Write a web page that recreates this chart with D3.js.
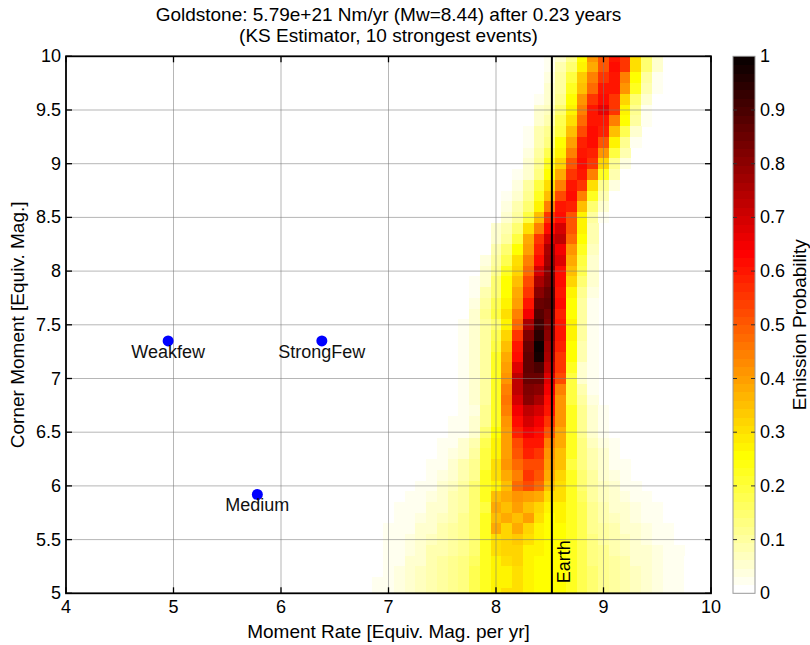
<!DOCTYPE html>
<html>
<head>
<meta charset="utf-8">
<script src="https://cdn.jsdelivr.net/npm/d3@7"></script>
<style>
  html, body { margin: 0; padding: 0; background: #fff; }
  svg { display: block; font-family: "Liberation Sans", Arial, Helvetica, sans-serif; }
</style>
</head>
<body>
<svg id="chart" width="810" height="645"></svg>
<script>
// ---------------- DATA ----------------
const titleLines = ["Goldstone: 5.79e+21 Nm/yr (Mw=8.44) after 0.23 years", "(KS Estimator, 10 strongest events)"];
const xLabel = "Moment Rate [Equiv. Mag. per yr]";
const yLabel = "Corner Moment [Equiv. Mag.]";
const cbLabel = "Emission Probability";
const xTicks = [4, 5, 6, 7, 8, 9, 10];
const yTicks = [5, 5.5, 6, 6.5, 7, 7.5, 8, 8.5, 9, 9.5, 10];
const cbTicks = [0, 0.1, 0.2, 0.3, 0.4, 0.5, 0.6, 0.7, 0.8, 0.9, 1];
const binWidth = 0.1;   // heat-map cell size (both axes)

// heat-map rows: corner-moment bin centre, first moment-rate bin centre, values
const rowY = [10.0, 9.9, 9.8, 9.7, 9.6, 9.5, 9.4, 9.3, 9.2, 9.1, 9.0, 8.9, 8.8, 8.7, 8.6, 8.5, 8.4, 8.3, 8.2, 8.1,
              8.0, 7.9, 7.8, 7.7, 7.6, 7.5, 7.4, 7.3, 7.2, 7.1, 7.0, 6.9, 6.8, 6.7, 6.6, 6.5, 6.4, 6.3, 6.2, 6.1,
              6.0, 5.9, 5.8, 5.7, 5.6, 5.5, 5.4, 5.3, 5.2, 5.1, 5.0];
const rowStart = [8.5, 8.5, 8.5, 8.5, 8.4, 8.4, 8.4, 8.3, 8.3, 8.3, 8.3, 8.2, 8.2, 8.1, 8.1, 8.1, 8.0, 8.0, 8.0, 7.9,
                  7.9, 7.8, 7.8, 7.8, 7.8, 7.7, 7.7, 7.7, 7.7, 7.7, 7.7, 7.7, 7.7, 7.7, 7.6, 7.6, 7.5, 7.5, 7.4, 7.4,
                  7.3, 7.2, 7.1, 7.1, 7.0, 7.0, 6.9, 6.9, 6.8, 6.8, 6.8];
const rowValues = [
  [0.03, 0.05, 0.12, 0.25, 0.42, 0.50, 0.60, 0.55, 0.30, 0.15, 0.05],
  [0.03, 0.08, 0.15, 0.27, 0.38, 0.50, 0.62, 0.56, 0.30, 0.15, 0.05],
  [0.04, 0.10, 0.20, 0.33, 0.45, 0.55, 0.60, 0.45, 0.25, 0.10, 0.03],
  [0.05, 0.10, 0.22, 0.35, 0.48, 0.60, 0.60, 0.42, 0.22, 0.08, 0.02],
  [0.03, 0.05, 0.12, 0.25, 0.42, 0.55, 0.62, 0.55, 0.32, 0.15, 0.05],
  [0.05, 0.07, 0.15, 0.28, 0.45, 0.60, 0.66, 0.55, 0.28, 0.12, 0.03],
  [0.05, 0.08, 0.18, 0.30, 0.48, 0.60, 0.60, 0.45, 0.25, 0.10, 0.02],
  [0.03, 0.08, 0.12, 0.20, 0.35, 0.52, 0.62, 0.58, 0.35, 0.18, 0.06],
  [0.03, 0.08, 0.14, 0.25, 0.40, 0.58, 0.62, 0.50, 0.28, 0.12, 0.03],
  [0.04, 0.10, 0.18, 0.28, 0.45, 0.60, 0.58, 0.42, 0.20, 0.08],
  [0.05, 0.12, 0.22, 0.32, 0.50, 0.62, 0.55, 0.32, 0.12, 0.04],
  [0.03, 0.06, 0.14, 0.25, 0.38, 0.55, 0.60, 0.45, 0.22, 0.08],
  [0.04, 0.10, 0.20, 0.30, 0.45, 0.60, 0.55, 0.30, 0.12, 0.04],
  [0.03, 0.05, 0.12, 0.22, 0.35, 0.52, 0.62, 0.45, 0.22, 0.08],
  [0.04, 0.08, 0.15, 0.28, 0.45, 0.60, 0.58, 0.35, 0.15, 0.05],
  [0.05, 0.10, 0.20, 0.35, 0.55, 0.62, 0.50, 0.28, 0.10, 0.03],
  [0.05, 0.08, 0.15, 0.30, 0.45, 0.62, 0.70, 0.50, 0.27, 0.09],
  [0.06, 0.10, 0.20, 0.38, 0.55, 0.70, 0.72, 0.48, 0.25, 0.08],
  [0.08, 0.15, 0.25, 0.40, 0.58, 0.75, 0.65, 0.42, 0.22, 0.07],
  [0.04, 0.10, 0.18, 0.30, 0.45, 0.62, 0.78, 0.68, 0.38, 0.20, 0.06],
  [0.05, 0.12, 0.22, 0.32, 0.48, 0.70, 0.80, 0.62, 0.35, 0.18, 0.05],
  [0.03, 0.06, 0.15, 0.25, 0.35, 0.52, 0.75, 0.82, 0.62, 0.32, 0.15, 0.05],
  [0.03, 0.08, 0.15, 0.25, 0.38, 0.55, 0.80, 0.85, 0.60, 0.28, 0.12, 0.04],
  [0.04, 0.10, 0.18, 0.28, 0.40, 0.60, 0.85, 0.86, 0.62, 0.25, 0.10, 0.03],
  [0.05, 0.12, 0.20, 0.30, 0.45, 0.65, 0.88, 0.84, 0.58, 0.25, 0.10, 0.03],
  [0.03, 0.06, 0.10, 0.15, 0.28, 0.48, 0.75, 0.92, 0.82, 0.60, 0.28, 0.10, 0.03],
  [0.03, 0.06, 0.10, 0.18, 0.32, 0.55, 0.82, 0.95, 0.80, 0.60, 0.27, 0.10, 0.02],
  [0.03, 0.06, 0.10, 0.20, 0.35, 0.60, 0.85, 1.00, 0.78, 0.58, 0.25, 0.08, 0.02],
  [0.03, 0.06, 0.10, 0.22, 0.38, 0.62, 0.86, 0.98, 0.75, 0.56, 0.25, 0.08, 0.02],
  [0.03, 0.06, 0.10, 0.22, 0.40, 0.68, 0.86, 0.90, 0.72, 0.55, 0.22, 0.06, 0.02],
  [0.03, 0.05, 0.10, 0.22, 0.42, 0.72, 0.85, 0.85, 0.68, 0.52, 0.20, 0.05, 0.02],
  [0.03, 0.05, 0.10, 0.22, 0.45, 0.72, 0.82, 0.80, 0.65, 0.45, 0.20, 0.08, 0.03],
  [0.03, 0.05, 0.10, 0.22, 0.46, 0.70, 0.80, 0.75, 0.62, 0.42, 0.20, 0.10, 0.04],
  [0.02, 0.04, 0.12, 0.22, 0.45, 0.65, 0.72, 0.70, 0.60, 0.42, 0.22, 0.12, 0.05, 0.02],
  [0.02, 0.03, 0.05, 0.12, 0.22, 0.42, 0.62, 0.70, 0.65, 0.55, 0.42, 0.22, 0.12, 0.06, 0.03],
  [0.02, 0.03, 0.05, 0.15, 0.25, 0.40, 0.58, 0.65, 0.62, 0.50, 0.38, 0.22, 0.12, 0.06, 0.03],
  [0.02, 0.03, 0.05, 0.08, 0.18, 0.28, 0.40, 0.52, 0.60, 0.60, 0.45, 0.38, 0.22, 0.14, 0.07, 0.04, 0.02],
  [0.02, 0.04, 0.06, 0.10, 0.20, 0.28, 0.40, 0.50, 0.58, 0.55, 0.42, 0.35, 0.22, 0.14, 0.08, 0.05, 0.03],
  [0.02, 0.03, 0.05, 0.08, 0.12, 0.20, 0.30, 0.42, 0.48, 0.52, 0.52, 0.40, 0.35, 0.20, 0.14, 0.08, 0.05, 0.03, 0.02],
  [0.02, 0.04, 0.06, 0.08, 0.12, 0.22, 0.30, 0.38, 0.45, 0.55, 0.50, 0.38, 0.32, 0.22, 0.15, 0.10, 0.06, 0.04, 0.03],
  [0.02, 0.03, 0.05, 0.07, 0.10, 0.15, 0.22, 0.28, 0.35, 0.48, 0.52, 0.48, 0.35, 0.30, 0.22, 0.15, 0.10, 0.07, 0.05, 0.03, 0.02],
  [0.02, 0.03, 0.04, 0.06, 0.08, 0.10, 0.15, 0.22, 0.35, 0.38, 0.42, 0.40, 0.38, 0.30, 0.30, 0.22, 0.16, 0.10, 0.07, 0.05, 0.04, 0.03, 0.02],
  [0.02, 0.02, 0.03, 0.05, 0.06, 0.08, 0.10, 0.15, 0.20, 0.38, 0.35, 0.40, 0.35, 0.32, 0.28, 0.28, 0.22, 0.18, 0.12, 0.08, 0.06, 0.05, 0.04, 0.03, 0.02],
  [0.02, 0.03, 0.04, 0.05, 0.07, 0.09, 0.12, 0.15, 0.22, 0.35, 0.38, 0.35, 0.40, 0.30, 0.25, 0.27, 0.22, 0.18, 0.12, 0.09, 0.07, 0.05, 0.04, 0.03, 0.02],
  [0.02, 0.02, 0.03, 0.05, 0.06, 0.08, 0.10, 0.12, 0.15, 0.22, 0.38, 0.32, 0.38, 0.32, 0.28, 0.25, 0.26, 0.22, 0.18, 0.12, 0.10, 0.08, 0.06, 0.05, 0.04, 0.03, 0.02],
  [0.02, 0.03, 0.04, 0.05, 0.07, 0.08, 0.10, 0.12, 0.15, 0.22, 0.30, 0.32, 0.33, 0.30, 0.27, 0.25, 0.26, 0.22, 0.18, 0.13, 0.10, 0.08, 0.07, 0.05, 0.04, 0.03, 0.02],
  [0.01, 0.02, 0.03, 0.04, 0.06, 0.08, 0.09, 0.10, 0.12, 0.15, 0.22, 0.30, 0.32, 0.32, 0.28, 0.27, 0.25, 0.25, 0.22, 0.18, 0.14, 0.11, 0.09, 0.07, 0.06, 0.05, 0.04, 0.03, 0.02],
  [0.01, 0.02, 0.03, 0.05, 0.06, 0.08, 0.10, 0.12, 0.14, 0.17, 0.22, 0.28, 0.30, 0.32, 0.27, 0.25, 0.25, 0.25, 0.22, 0.18, 0.14, 0.12, 0.10, 0.08, 0.06, 0.05, 0.04, 0.03, 0.02, 0.01],
  [0.01, 0.01, 0.02, 0.04, 0.05, 0.07, 0.09, 0.10, 0.12, 0.14, 0.18, 0.22, 0.27, 0.28, 0.30, 0.27, 0.25, 0.25, 0.25, 0.22, 0.18, 0.15, 0.12, 0.10, 0.08, 0.07, 0.05, 0.04, 0.03, 0.02, 0.01],
  [0.01, 0.02, 0.03, 0.04, 0.05, 0.07, 0.09, 0.10, 0.12, 0.14, 0.18, 0.23, 0.27, 0.28, 0.30, 0.28, 0.26, 0.25, 0.25, 0.22, 0.18, 0.15, 0.12, 0.10, 0.09, 0.07, 0.05, 0.04, 0.03, 0.02, 0.01],
  [0.01, 0.02, 0.03, 0.04, 0.05, 0.07, 0.09, 0.10, 0.12, 0.14, 0.18, 0.23, 0.27, 0.30, 0.30, 0.28, 0.26, 0.25, 0.25, 0.22, 0.18, 0.15, 0.12, 0.10, 0.09, 0.07, 0.05, 0.04, 0.03, 0.02, 0.01]
];

// labelled reference points
const pointNames = ["Weakfew", "StrongFew", "Medium"];
const pointX = [4.95, 6.38, 5.78];
const pointY = [7.35, 7.35, 5.92];

// Earth reference line
const earthName = "Earth";
const earthX = 8.52;

// ---------------- LAYOUT ----------------
const svg = d3.select("#chart");
const plot = { left: 66, right: 711, top: 56.3, bottom: 593.3 };
const cb = { left: 733, right: 755 };
const FONT = 18;
const LABEL_FONT = 19;

const x = d3.scaleLinear().domain([4, 10]).range([plot.left, plot.right]);
const y = d3.scaleLinear().domain([5, 10]).range([plot.bottom, plot.top]);

// MATLAB flipud(hot(64)) colour map
const hotColors = d3.range(64).map(k => {
  const j = 63 - k;
  const r = j < 24 ? (j + 1) / 24 : 1;
  const g = j < 24 ? 0 : (j < 48 ? (j - 23) / 24 : 1);
  const b = j < 48 ? 0 : (j - 47) / 16;
  return d3.rgb(Math.round(r * 255), Math.round(g * 255), Math.round(b * 255)).toString();
});
const color = d3.scaleQuantize().domain([0, 1]).range(hotColors);

// clip
svg.append("defs").append("clipPath").attr("id", "plotClip")
  .append("rect").attr("x", plot.left).attr("y", plot.top)
  .attr("width", plot.right - plot.left).attr("height", plot.bottom - plot.top);

// ---------------- HEAT MAP ----------------
const cells = [];
rowY.forEach((ry, ri) => {
  rowValues[ri].forEach((v, ci) => {
    const cx = Math.round((rowStart[ri] + ci * binWidth) * 10) / 10;
    cells.push({ cx, cy: ry, v });
  });
});
svg.append("g").attr("clip-path", "url(#plotClip)")
  .selectAll("rect").data(cells).join("rect")
  .attr("x", d => x(d.cx - binWidth / 2))
  .attr("y", d => y(d.cy + binWidth / 2))
  .attr("width", d => x(d.cx + binWidth / 2) - x(d.cx - binWidth / 2) + 0.4)
  .attr("height", d => y(d.cy - binWidth / 2) - y(d.cy + binWidth / 2) + 0.4)
  .attr("fill", d => color(d.v))
  .attr("shape-rendering", "crispEdges");

// ---------------- GRID ----------------
const grid = svg.append("g").attr("stroke", "#7a7a7a").attr("stroke-opacity", 0.55).attr("stroke-width", 1);
grid.selectAll("line.gx").data(xTicks.slice(1, -1)).join("line")
  .attr("x1", d => x(d)).attr("x2", d => x(d)).attr("y1", plot.top).attr("y2", plot.bottom);
grid.selectAll("line.gy").data(yTicks.slice(1, -1)).join("line")
  .attr("y1", d => y(d)).attr("y2", d => y(d)).attr("x1", plot.left).attr("x2", plot.right);

// ---------------- EARTH LINE ----------------
svg.append("line")
  .attr("x1", x(earthX)).attr("x2", x(earthX)).attr("y1", plot.top).attr("y2", plot.bottom)
  .attr("stroke", "#000").attr("stroke-width", 2);
svg.append("text")
  .attr("transform", `translate(${x(earthX) + 18},${plot.bottom - 10}) rotate(-90)`)
  .attr("font-size", FONT).attr("fill", "#000").text(earthName);

// ---------------- POINTS ----------------
const pts = pointNames.map((n, i) => ({ n, px: pointX[i], py: pointY[i] }));
svg.append("g").selectAll("circle").data(pts).join("circle")
  .attr("cx", d => x(d.px)).attr("cy", d => y(d.py)).attr("r", 5.5).attr("fill", "#0000ff");
svg.append("g").selectAll("text").data(pts).join("text")
  .attr("x", d => x(d.px)).attr("y", d => y(d.py) + 17)
  .attr("text-anchor", "middle").attr("font-size", FONT).attr("fill", "#111").text(d => d.n);

// ---------------- AXES ----------------
const tickLen = 6;
const axes = svg.append("g").attr("stroke", "#000").attr("stroke-width", 1.3);
axes.selectAll("line.tb").data(xTicks).join("line")
  .attr("x1", d => x(d)).attr("x2", d => x(d)).attr("y1", plot.bottom).attr("y2", plot.bottom - tickLen);
axes.selectAll("line.tt").data(xTicks).join("line")
  .attr("x1", d => x(d)).attr("x2", d => x(d)).attr("y1", plot.top).attr("y2", plot.top + tickLen);
axes.selectAll("line.tl").data(yTicks).join("line")
  .attr("y1", d => y(d)).attr("y2", d => y(d)).attr("x1", plot.left).attr("x2", plot.left + tickLen);
axes.selectAll("line.tr").data(yTicks).join("line")
  .attr("y1", d => y(d)).attr("y2", d => y(d)).attr("x1", plot.right).attr("x2", plot.right - tickLen);
svg.append("rect").attr("x", plot.left).attr("y", plot.top)
  .attr("width", plot.right - plot.left).attr("height", plot.bottom - plot.top)
  .attr("fill", "none").attr("stroke", "#000").attr("stroke-width", 1.8);

const fmt = d3.format("~g");
svg.append("g").selectAll("text").data(xTicks).join("text")
  .attr("x", d => x(d)).attr("y", plot.bottom + 20).attr("text-anchor", "middle")
  .attr("font-size", FONT).text(d => fmt(d));
svg.append("g").selectAll("text").data(yTicks).join("text")
  .attr("x", plot.left - 5).attr("y", d => y(d) + 6).attr("text-anchor", "end")
  .attr("font-size", FONT).text(d => fmt(d));

svg.append("text").attr("x", (plot.left + plot.right) / 2).attr("y", 638)
  .attr("text-anchor", "middle").attr("font-size", LABEL_FONT).text(xLabel);
svg.append("text").attr("transform", `translate(24,${(plot.top + plot.bottom) / 2}) rotate(-90)`)
  .attr("text-anchor", "middle").attr("font-size", LABEL_FONT).text(yLabel);

svg.append("g").selectAll("text").data(titleLines).join("text")
  .attr("x", (plot.left + plot.right) / 2).attr("y", (d, i) => 21 + i * 21)
  .attr("text-anchor", "middle").attr("font-size", LABEL_FONT).text(d => d);

// ---------------- COLOUR BAR ----------------
const cy = d3.scaleLinear().domain([0, 1]).range([plot.bottom, plot.top]);
svg.append("g").selectAll("rect").data(hotColors).join("rect")
  .attr("x", cb.left).attr("width", cb.right - cb.left)
  .attr("y", (d, i) => cy((i + 1) / 64))
  .attr("height", (d, i) => cy(i / 64) - cy((i + 1) / 64) + 0.5)
  .attr("fill", d => d).attr("shape-rendering", "crispEdges");
svg.append("rect").attr("x", cb.left).attr("y", plot.top)
  .attr("width", cb.right - cb.left).attr("height", plot.bottom - plot.top)
  .attr("fill", "none").attr("stroke", "#999").attr("stroke-width", 1);
const cbt = svg.append("g").attr("stroke", "#333").attr("stroke-width", 1);
cbt.selectAll("line.l").data(cbTicks.slice(1, -1)).join("line")
  .attr("x1", cb.left).attr("x2", cb.left + 4).attr("y1", d => cy(d)).attr("y2", d => cy(d));
cbt.selectAll("line.r").data(cbTicks.slice(1, -1)).join("line")
  .attr("x1", cb.right).attr("x2", cb.right - 4).attr("y1", d => cy(d)).attr("y2", d => cy(d));
svg.append("g").selectAll("text").data(cbTicks).join("text")
  .attr("x", cb.right + 5).attr("y", d => cy(d) + 6)
  .attr("font-size", FONT).text(d => fmt(d));
svg.append("text").attr("transform", `translate(806,${(plot.top + plot.bottom) / 2}) rotate(-90)`)
  .attr("text-anchor", "middle").attr("font-size", LABEL_FONT).text(cbLabel);
</script>
</body>
</html>
